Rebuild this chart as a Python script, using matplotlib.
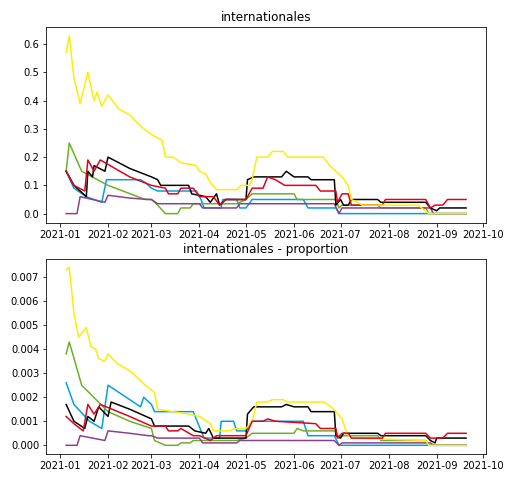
import matplotlib.pyplot as plt
import pandas as pd

colors = {'yellow': '#ffed00', 'black': '#000000', 'red': '#e2001a',
          'blue': '#009fe3', 'green': '#6ab023', 'purple': '#8b3e8d'}

# (date, value) pairs, year 2021
top_yellow = [('01-05', .57), ('01-07', .63), ('01-10', .48), ('01-14', .39), ('01-19', .5), ('01-23', .4),
              ('01-25', .43), ('01-28', .38), ('02-01', .42), ('02-08', .37), ('02-15', .35), ('02-22', .31),
              ('03-01', .28), ('03-08', .26), ('03-10', .2), ('03-15', .2), ('03-20', .18), ('03-30', .17),
              ('04-01', .15), ('04-05', .14), ('04-08', .11), ('04-12', .085), ('04-25', .085), ('04-28', .1),
              ('05-03', .1), ('05-05', .12), ('05-08', .2), ('05-15', .2), ('05-18', .22), ('05-25', .22),
              ('05-28', .2), ('06-20', .2), ('06-24', .17), ('06-28', .15), ('07-02', .13), ('07-06', .1),
              ('07-08', .05), ('07-12', .04), ('07-15', .03), ('08-20', .03), ('08-27', 0), ('09-20', 0)]
top_black = [('01-05', .15), ('01-10', .1), ('01-18', .06), ('01-19', .15), ('01-22', .13), ('01-23', .17),
             ('01-30', .15), ('02-01', .2), ('02-15', .16), ('03-01', .13), ('03-05', .12), ('03-07', .1),
             ('03-25', .1), ('03-27', .07), ('04-05', .06), ('04-08', .04), ('04-12', .07), ('04-14', .03),
             ('04-18', .05), ('05-01', .05), ('05-02', .12), ('05-06', .13), ('05-24', .13), ('05-27', .15),
             ('06-01', .13), ('06-10', .13), ('06-12', .12), ('06-27', .12), ('06-28', .03), ('07-01', .05),
             ('07-03', .03), ('07-06', .03), ('07-08', .05), ('07-25', .05), ('07-27', .04), ('08-25', .04),
             ('08-28', .02), ('09-01', .01), ('09-03', .02), ('09-20', .02)]
top_red = [('01-05', .15), ('01-10', .1), ('01-17', .08), ('01-19', .19), ('01-23', .15), ('01-27', .19),
           ('02-15', .13), ('03-01', .1), ('03-10', .09), ('03-12', .07), ('03-18', .07), ('03-20', .09),
           ('03-28', .09), ('04-01', .06), ('04-10', .06), ('04-14', .03), ('04-18', .05), ('05-01', .05),
           ('05-05', .09), ('05-12', .09), ('05-15', .13), ('05-20', .12), ('05-26', .1), ('06-15', .1),
           ('06-18', .08), ('06-28', .08), ('06-29', .04), ('07-02', .07), ('07-06', .07), ('07-08', .03),
           ('07-28', .03), ('07-30', .05), ('08-25', .05), ('08-28', .02), ('08-31', .03), ('09-05', .03),
           ('09-08', .05), ('09-20', .05)]
top_blue = [('01-05', .15), ('01-10', .09), ('01-18', .06), ('01-28', .04), ('01-31', .12), ('02-22', .12),
            ('02-25', .11), ('03-01', .09), ('03-05', .08), ('03-30', .08), ('04-02', .05), ('04-04', .02),
            ('04-15', .02), ('04-16', .05), ('04-25', .05), ('04-27', .02), ('05-01', .02), ('05-05', .05),
            ('06-07', .05), ('06-10', .02), ('06-28', .02), ('06-30', 0), ('09-20', 0)]
top_green = [('01-05', .15), ('01-07', .25), ('01-15', .15), ('02-01', .1), ('02-25', .05), ('03-01', .05),
             ('03-05', .03), ('03-10', 0), ('03-18', 0), ('03-20', .02), ('03-26', .02), ('03-28', .035),
             ('04-25', .035), ('05-01', .05), ('05-05', .07), ('06-01', .07), ('06-03', .05), ('06-28', .05),
             ('06-30', .02), ('07-02', .03), ('07-25', .03), ('07-27', .02), ('08-25', .02), ('08-27', 0),
             ('09-20', 0)]
top_purple = [('01-05', 0), ('01-12', 0), ('01-14', .06), ('01-30', .04), ('02-01', .065), ('02-15', .055),
              ('02-27', .05), ('03-01', .05), ('03-05', .035), ('04-01', .035), ('04-03', .02), ('04-25', .02),
              ('04-27', .035), ('06-27', .035), ('06-30', 0), ('07-02', .02), ('08-28', .02), ('08-30', 0),
              ('09-20', 0)]

bot_yellow = [('01-05', .0073), ('01-07', .0074), ('01-10', .0055), ('01-13', .0045), ('01-18', .0049),
              ('01-21', .0041), ('01-24', .0040), ('01-26', .0036), ('01-30', .0035), ('02-01', .0038),
              ('02-07', .0034), ('02-15', .0031), ('02-25', .0025), ('03-01', .0023), ('03-03', .0022),
              ('03-05', .0015), ('03-15', .0014), ('03-25', .0013), ('04-01', .0012), ('04-08', .0009),
              ('04-10', .0006), ('04-20', .0006), ('04-25', .0007), ('05-01', .0007), ('05-05', .0010),
              ('05-08', .0018), ('05-15', .0018), ('05-18', .0019), ('05-25', .0019), ('05-28', .0018),
              ('06-20', .0018), ('06-25', .0016), ('06-28', .0014), ('07-02', .0011), ('07-05', .0005),
              ('07-08', .0003), ('08-25', .0002), ('08-27', 0), ('09-20', 0)]
bot_black = [('01-05', .0017), ('01-10', .0010), ('01-17', .0007), ('01-19', .0012), ('01-23', .0010),
             ('01-26', .0016), ('02-01', .0012), ('02-03', .0018), ('02-15', .0015), ('03-01', .0011),
             ('03-03', .0008), ('03-25', .0008), ('03-29', .0006), ('04-05', .0005), ('04-07', .0007),
             ('04-10', .0003), ('05-01', .0003), ('05-02', .0013), ('05-06', .0016), ('05-24', .0016),
             ('05-27', .0017), ('06-01', .0016), ('06-10', .0016), ('06-12', .0014), ('06-27', .0014),
             ('06-28', .0004), ('07-01', .0003), ('07-03', .0005), ('07-25', .0005), ('07-27', .0004),
             ('08-25', .0004), ('08-28', .0002), ('08-31', .0001), ('09-01', .0003), ('09-20', .0003)]
bot_red = [('01-05', .0012), ('01-10', .0009), ('01-16', .0006), ('01-19', .0017), ('01-23', .0013),
           ('01-27', .0017), ('02-15', .0012), ('03-01', .0008), ('03-10', .0008), ('03-12', .0006),
           ('03-18', .0006), ('03-20', .0007), ('03-28', .0004), ('04-01', .0004), ('04-08', .0002),
           ('04-12', .0004), ('05-01', .0004), ('05-05', .0010), ('05-12', .0010), ('05-15', .0011),
           ('05-20', .0010), ('06-15', .0009), ('06-18', .0007), ('06-28', .0007), ('06-29', .0003),
           ('07-02', .0005), ('07-06', .0005), ('07-08', .0003), ('07-28', .0003), ('07-30', .0005),
           ('08-25', .0005), ('08-28', .0003), ('09-05', .0003), ('09-08', .0005), ('09-20', .0005)]
bot_blue = [('01-05', .0026), ('01-10', .0017), ('01-20', .0010), ('01-28', .0007), ('02-01', .0025),
            ('02-15', .0019), ('02-22', .0016), ('02-24', .0020), ('03-01', .0017), ('03-03', .0014),
            ('03-28', .0014), ('04-02', .0006), ('04-04', .0003), ('04-14', .0003), ('04-15', .0010),
            ('04-23', .0010), ('04-25', .0006), ('05-01', .0006), ('05-05', .0010), ('06-07', .0010),
            ('06-10', .0004), ('06-27', .0004), ('06-30', 0), ('09-20', 0)]
bot_green = [('01-05', .0038), ('01-07', .0043), ('01-15', .0025), ('02-01', .0014), ('02-15', .0010),
             ('03-01', .0007), ('03-03', .0002), ('03-10', 0), ('03-18', 0), ('03-20', .0001),
             ('03-26', .0001), ('03-28', .0002), ('04-25', .0002), ('05-01', .0003), ('05-05', .0005),
             ('06-01', .0005), ('06-03', .0007), ('06-07', .0006), ('06-28', .0006), ('06-30', .0003),
             ('07-02', .0004), ('07-25', .0004), ('07-27', .0002), ('08-25', .0002), ('08-27', 0), ('09-20', 0)]
bot_purple = [('01-05', 0), ('01-12', 0), ('01-14', .0004), ('01-30', .0002), ('02-01', .0006),
              ('02-15', .0005), ('02-27', .0004), ('03-01', .0004), ('03-05', .0003), ('04-01', .0003),
              ('04-03', .0001), ('04-25', .0001), ('04-27', .0002), ('06-27', .0002), ('06-30', 0),
              ('07-02', .0001), ('08-28', .0001), ('08-30', 0), ('09-20', 0)]

panels = [
    ('internationales', {'blue': top_blue, 'green': top_green, 'purple': top_purple,
                         'black': top_black, 'red': top_red, 'yellow': top_yellow}),
    ('internationales - proportion', {'blue': bot_blue, 'green': bot_green, 'purple': bot_purple,
                                      'black': bot_black, 'yellow': bot_yellow, 'red': bot_red}),
]

fig, axes = plt.subplots(2, 1, figsize=(515 / 72, 482 / 72), dpi=72)
for ax, (title, series) in zip(axes, panels):
    for name, pts in series.items():
        x = pd.to_datetime(['2021-' + d for d, _ in pts])
        y = [v for _, v in pts]
        ax.plot(x, y, color=colors[name], lw=1.5)
    ax.set_title(title)
    ax.set_xticks(pd.date_range('2021-01-01', '2021-10-01', freq='MS'))
    ax.xaxis.set_major_formatter(plt.matplotlib.dates.DateFormatter('%Y-%m'))

plt.tight_layout(h_pad=0.3)
fig.savefig('out.png', dpi=72)
